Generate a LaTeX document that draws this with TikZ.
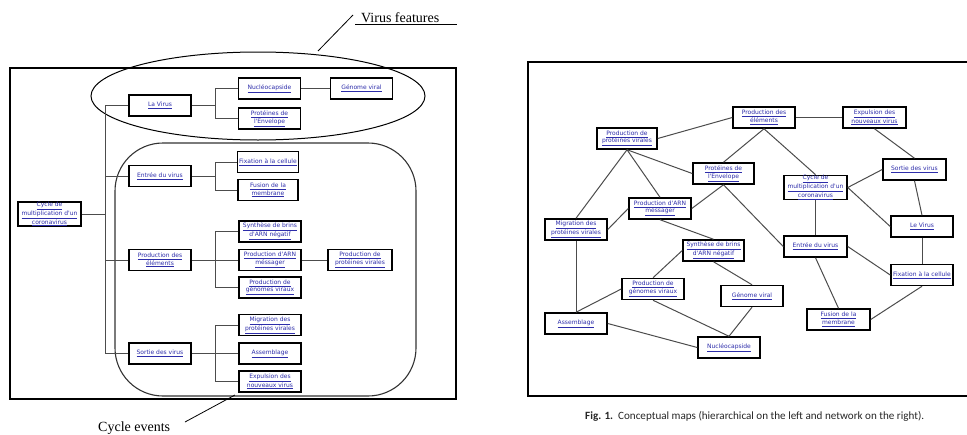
\documentclass[tikz,border=0pt]{standalone}
\usepackage{fontspec}
\setmainfont{Liberation Serif}
\newfontfamily\boxfont{DejaVu Sans}
\newfontfamily\capfont{Carlito}
\definecolor{lnk}{RGB}{45,45,170}
\newcommand\lk[1]{\underline{#1}}
\tikzset{
  cbox/.style={draw=black, line width=1.5pt, fill=white, minimum width=62pt,
    minimum height=21pt, inner sep=0pt, align=center,
    font=\boxfont\fontsize{6}{7.6}\selectfont, text=lnk},
  tree/.style={draw=black!70, line width=0.9pt},
  net/.style={draw=black!70, line width=1pt},
  frame/.style={draw=black, line width=1.8pt},
  lab/.style={font=\fontsize{14}{16}\selectfont, inner sep=0pt},
}
\begin{document}
\begin{tikzpicture}[x=1pt,y=-1pt]
\useasboundingbox (0,0) rectangle (967,434);
% ---------- left hierarchical map ----------
\draw[frame] (10,68) rectangle (456,399);
\draw[line width=1pt] (258,96) ellipse [x radius=167pt, y radius=44pt];
\draw[line width=1.1pt, draw=black!80, rounded corners=48pt] (115,143) rectangle (416,396);

\node[cbox, minimum width=63pt, minimum height=22pt, font=\boxfont\fontsize{6}{7}\selectfont] (l-cyc) at (49.5,214) {\lk{Cycle de}\\\lk{multiplication d'un}\\\lk{coronavirus}};
\node[cbox] (l-vir) at (160,105.5) {\lk{La Virus}};
\node[cbox] (l-nuc) at (269.5,88.5) {\lk{Nucléocapside}};
\node[cbox] (l-gen) at (361.5,88.5) {\lk{Génome viral}};
\node[cbox] (l-pe) at (269.5,118.5) {\lk{Protéines de}\\\lk{l'Envelope}};
\node[cbox] (l-ent) at (160,176) {\lk{Entrée du virus}};
\node[cbox, minimum width=61pt] (l-fix) at (268,162) {\lk{Fixation à la cellule}};
\node[cbox, minimum width=60pt] (l-fus) at (268,190) {\lk{Fusion de la}\\\lk{membrane}};
\node[cbox] (l-pde) at (160,260) {\lk{Production des}\\\lk{éléments}};
\node[cbox] (l-syn) at (270,231.5) {\lk{Synthèse de brins}\\\lk{d'ARN négatif}};
\node[cbox] (l-pam) at (270,260) {\lk{Production d'ARN}\\\lk{méssager}};
\node[cbox, minimum width=64pt] (l-ppv) at (360,260) {\lk{Production de}\\\lk{protéines virales}};
\node[cbox] (l-pgv) at (270,287.5) {\lk{Production de}\\\lk{génomes viraux}};
\node[cbox] (l-sor) at (160,353.5) {\lk{Sortie des virus}};
\node[cbox] (l-mig) at (270,325) {\lk{Migration des}\\\lk{protéines virales}};
\node[cbox] (l-asm) at (270,353.5) {\lk{Assemblage}};
\node[cbox] (l-exp) at (270,381.5) {\lk{Expulsion des}\\\lk{nouveaux virus}};

\coordinate (tx) at (105,0);
\coordinate (sx) at (215.5,0);
\draw[tree] (l-cyc.east) -- (l-cyc.east -| tx);
\draw[tree] (l-vir.west) -- (l-vir.west -| tx) -- (l-sor.west -| tx) -- (l-sor.west);
\draw[tree] (l-ent.west) -- (l-ent.west -| tx);
\draw[tree] (l-pde.west) -- (l-pde.west -| tx);
\draw[tree] (l-vir.east) -- (l-vir.east -| sx);
\draw[tree] (l-nuc.west) -- (l-nuc.west -| sx) -- (l-pe.west -| sx) -- (l-pe.west);
\draw[tree] (l-nuc.east) -- (l-gen.west);
\draw[tree] (l-ent.east) -- (l-ent.east -| sx);
\draw[tree] (l-fix.west) -- (l-fix.west -| sx) -- (l-fus.west -| sx) -- (l-fus.west);
\draw[tree] (l-pde.east) -- (l-pam.west);
\draw[tree] (l-syn.west) -- (l-syn.west -| sx) -- (l-pgv.west -| sx) -- (l-pgv.west);
\draw[tree] (l-pam.east) -- (l-ppv.west);
\draw[tree] (l-sor.east) -- (l-asm.west);
\draw[tree] (l-mig.west) -- (l-mig.west -| sx) -- (l-exp.west -| sx) -- (l-exp.west);

% labels
\node[lab, anchor=base west] (vf) at (361,22) {Virus features};
\coordinate (vfl) at (355,24);
\coordinate (vfr) at (457,24);
\coordinate (vfa) at (318,51);
\coordinate (vfb) at (353,15);
\draw[line width=0.8pt] (vfl) -- (vfr);
\draw[line width=0.8pt] (vfa) -- (vfb);
\node[lab, anchor=base west] (ce) at (98,431) {Cycle events};
\coordinate (cea) at (185,422);
\coordinate (ceb) at (235,395);
\draw[line width=0.8pt] (cea) -- (ceb);

% ---------- right network map ----------
\coordinate (fa) at (967,62);
\coordinate (fb) at (528,62);
\coordinate (fc) at (528,396);
\coordinate (fd) at (967,396);
\draw[frame] (fa) -- (fb) -- (fc) -- (fd);

\node[cbox, minimum width=60pt] (r-ppv) at (627,138.5) {\lk{Production de}\\\lk{protéines virales}};
\node[cbox, minimum width=61pt] (r-pe) at (723.5,173.5) {\lk{Protéines de}\\\lk{l'Envelope}};
\node[cbox] (r-pam) at (660,208.5) {\lk{Production d'ARN}\\\lk{méssager}};
\node[cbox] (r-mig) at (576,229.5) {\lk{Migration des}\\\lk{protéines virales}};
\node[cbox, minimum width=61pt] (r-syn) at (713.5,250.5) {\lk{Synthèse de brins}\\\lk{d'ARN négatif}};
\node[cbox] (r-pgv) at (653,289) {\lk{Production de}\\\lk{génomes viraux}};
\node[cbox] (r-asm) at (576,323.5) {\lk{Assemblage}};
\node[cbox] (r-nuc) at (729,347.5) {\lk{Nucléocapside}};
\node[cbox] (r-gen) at (752,296) {\lk{Génome viral}};
\node[cbox] (r-pde) at (764,117.5) {\lk{Production des}\\\lk{éléments}};
\node[cbox, minimum width=63pt] (r-exp) at (874.5,117.5) {\lk{Expulsion des}\\\lk{nouveaux virus}};
\node[cbox, minimum width=63pt] (r-sor) at (914.5,169.5) {\lk{Sortie des virus}};
\node[cbox, minimum width=63pt, font=\boxfont\fontsize{6}{7}\selectfont] (r-cyc) at (815.5,187.5) {\lk{Cycle de}\\\lk{multiplication d'un}\\\lk{coronavirus}};
\node[cbox] (r-vir) at (922,226.5) {\lk{Le Virus}};
\node[cbox, minimum width=63pt] (r-ent) at (815.5,246.5) {\lk{Entrée du virus}};
\node[cbox] (r-fix) at (922,275) {\lk{Fixation à la cellule}};
\node[cbox, minimum width=63pt] (r-fus) at (838.5,319.5) {\lk{Fusion de la}\\\lk{membrane}};

\draw[net] (r-ppv.east) -- (r-pde.west);
\draw[net] (r-ppv.south) -- (r-pe.west);
\draw[net] (r-ppv.south) -- (r-pam.north);
\draw[net] (r-ppv.south) -- (r-mig.north);
\draw[net] (r-pam.west) -- (r-mig.east);
\draw[net] (r-pam.east) -- (r-pe.south);
\draw[net] (r-pam.south) -- (r-syn.north);
\draw[net] (r-pe.north) -- (r-pde.south);
\draw[net] (r-pe.south) -- (r-ent.west);
\draw[net] (r-pde.east) -- (r-exp.west);
\draw[net] (r-pde.south) -- (r-cyc.north);
\draw[net] (r-exp.south) -- (r-sor.north);
\draw[net] (r-sor.west) -- (r-cyc.east);
\draw[net] (r-sor.south) -- (r-vir.north);
\draw[net] (r-cyc.east) -- (r-vir.west);
\draw[net] (r-cyc.south) -- (r-ent.north);
\draw[net] (r-vir.south) -- (r-fix.north);
\draw[net] (r-ent.east) -- (r-fix.west);
\draw[net] (r-ent.south) -- (r-fus.north);
\draw[net] (r-fus.east) -- (r-fix.south);
\draw[net] (r-syn.south) -- (r-gen.north);
\draw[net] (r-syn.west) -- (r-pgv.north);
\draw[net] (r-pgv.west) -- (r-asm.north);
\draw[net] (r-mig.south) -- (r-asm.north);
\draw[net] (r-pgv.south) -- (r-nuc.north);
\draw[net] (r-asm.east) -- (r-nuc.west);
\draw[net] (r-gen.south) -- (r-nuc.north);

\node[anchor=west, inner sep=0pt, font=\capfont\fontsize{11.1}{13}\selectfont, text=black!85] (cap) at (585,416) {\textbf{Fig. 1.}\ \ Conceptual maps (hierarchical on the left and network on the right).};
\end{tikzpicture}
\end{document}
